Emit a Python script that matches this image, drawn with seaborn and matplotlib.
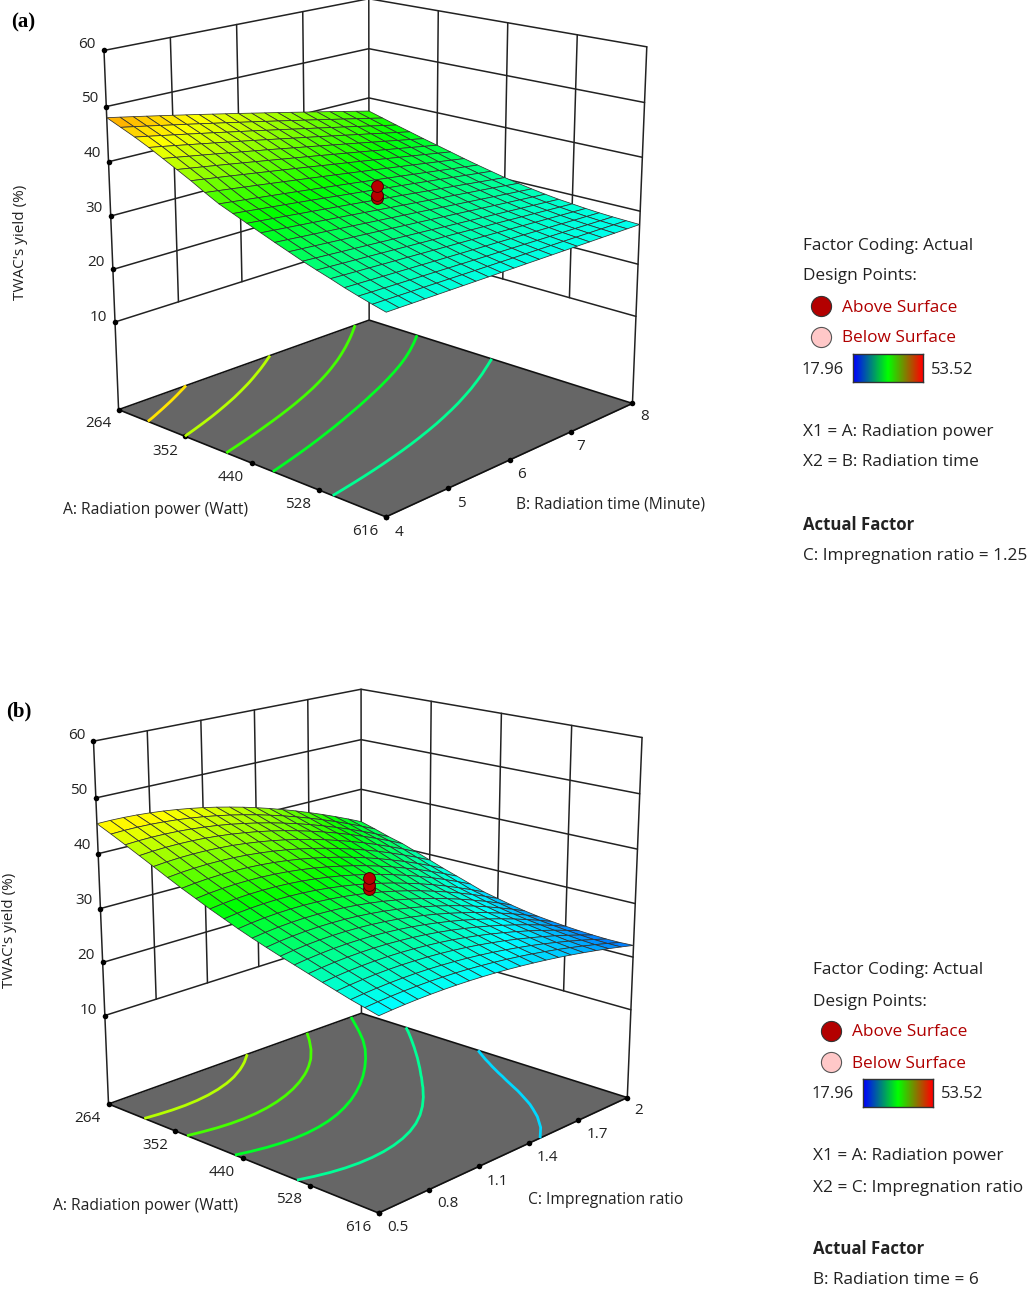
import numpy as np
import matplotlib
matplotlib.use('Agg')
import matplotlib.pyplot as plt
import seaborn as sns

# yield surfaces, rows = radiation power, columns = 2nd factor
yield_a = [
 [48.00,47.56,47.11,46.65,46.18,45.70,45.21,44.71,44.20,43.68,43.15,42.61,42.06,41.50,40.93,40.35,39.76,39.16,38.55,37.93,37.30],
 [46.90,46.47,46.03,45.58,45.12,44.66,44.18,43.69,43.20,42.69,42.18,41.65,41.12,40.57,40.02,39.46,38.88,38.30,37.71,37.11,36.50],
 [45.80,45.38,44.95,44.51,44.07,43.61,43.15,42.67,42.19,41.70,41.20,40.69,40.17,39.64,39.11,38.56,38.01,37.45,36.87,36.29,35.70],
 [44.60,44.20,43.79,43.37,42.94,42.51,42.06,41.61,41.15,40.68,40.20,39.71,39.22,38.72,38.20,37.68,37.15,36.62,36.06,35.51,34.95],
 [43.30,42.92,42.53,42.14,41.74,41.33,40.91,40.48,40.06,39.61,39.15,38.70,38.22,37.75,37.27,36.78,36.28,35.77,35.25,34.73,34.20],
 [42.00,41.65,41.29,40.92,40.54,40.16,39.76,39.36,38.96,38.55,38.13,37.70,37.26,36.82,36.37,35.91,35.44,34.97,34.49,34.00,33.50],
 [40.70,40.37,40.04,39.70,39.34,38.99,38.62,38.25,37.88,37.50,37.10,36.70,36.30,35.89,35.46,35.04,34.60,34.17,33.72,33.26,32.80],
 [39.30,39.00,38.70,38.38,38.07,37.74,37.41,37.07,36.73,36.38,36.03,35.66,35.29,34.92,34.53,34.14,33.75,33.35,32.94,32.52,32.10],
 [38.00,37.73,37.45,37.17,36.88,36.59,36.29,35.98,35.67,35.35,35.03,34.70,34.36,34.01,33.67,33.31,32.95,32.58,32.20,31.83,31.45],
 [37.00,36.75,36.48,36.22,35.95,35.67,35.39,35.10,34.80,34.50,34.20,33.89,33.57,33.25,32.93,32.59,32.26,31.91,31.56,31.20,30.85],
 [36.00,35.76,35.51,35.27,35.01,34.75,34.48,34.22,33.94,33.66,33.38,33.08,32.79,32.49,32.18,31.88,31.56,31.24,30.91,30.58,30.25],
 [35.05,34.83,34.60,34.37,34.14,33.90,33.65,33.40,33.15,32.88,32.62,32.35,32.08,31.80,31.53,31.25,30.96,30.68,30.39,30.07,29.75],
 [34.10,33.90,33.69,33.48,33.27,33.05,32.83,32.60,32.37,32.14,31.90,31.66,31.41,31.16,30.91,30.65,30.39,30.12,29.85,29.58,29.30],
 [33.20,33.02,32.83,32.64,32.45,32.26,32.06,31.86,31.65,31.44,31.23,31.01,30.79,30.57,30.34,30.11,29.87,29.63,29.39,29.15,28.90],
 [32.30,32.14,31.98,31.81,31.65,31.47,31.30,31.12,30.94,30.76,30.58,30.38,30.19,30.00,29.80,29.60,29.40,29.19,28.98,28.77,28.55],
 [31.50,31.36,31.22,31.08,30.94,30.79,30.65,30.49,30.34,30.18,30.03,29.87,29.70,29.53,29.37,29.20,29.02,28.84,28.66,28.48,28.30],
 [30.75,30.63,30.51,30.40,30.27,30.15,30.03,29.90,29.77,29.63,29.50,29.36,29.23,29.09,28.95,28.80,28.65,28.50,28.35,28.20,28.05],
 [29.95,29.86,29.77,29.67,29.58,29.48,29.38,29.28,29.18,29.08,28.98,28.88,28.77,28.66,28.55,28.43,28.32,28.20,28.08,27.97,27.85],
 [29.25,29.18,29.11,29.04,28.97,28.90,28.83,28.75,28.68,28.60,28.52,28.45,28.37,28.29,28.20,28.12,28.04,27.96,27.87,27.78,27.70],
 [28.60,28.56,28.51,28.46,28.42,28.37,28.32,28.27,28.22,28.17,28.13,28.07,28.02,27.97,27.92,27.87,27.82,27.76,27.71,27.65,27.60],
 [28.00,27.98,27.95,27.93,27.90,27.88,27.85,27.83,27.80,27.78,27.75,27.73,27.70,27.68,27.65,27.63,27.60,27.58,27.55,27.53,27.50],
]
yield_b = [
 [45.40,45.44,45.41,45.31,45.14,44.91,44.61,44.25,43.82,43.32,42.75,42.12,41.42,40.65,39.81,38.91,37.94,36.91,35.81,34.64,33.40],
 [44.20,44.29,44.31,44.26,44.13,43.94,43.67,43.34,42.93,42.46,41.91,41.29,40.60,39.84,39.01,38.11,37.14,36.10,34.98,33.80,32.55],
 [42.95,43.09,43.15,43.14,43.05,42.89,42.66,42.36,41.98,41.52,40.99,40.39,39.71,38.97,38.14,37.24,36.27,35.23,34.11,32.92,31.65],
 [41.70,41.89,42.00,42.03,41.99,41.87,41.67,41.40,41.05,40.63,40.13,39.55,38.89,38.16,37.35,36.47,35.51,34.47,33.36,32.17,30.90],
 [40.45,40.67,40.81,40.87,40.86,40.76,40.59,40.33,40.00,39.59,39.10,38.53,37.89,37.17,36.36,35.49,34.53,33.49,32.37,31.19,29.90],
 [39.20,39.45,39.61,39.70,39.70,39.63,39.48,39.24,38.93,38.53,38.06,37.50,36.87,36.15,35.36,34.48,33.53,32.49,31.37,30.18,28.90],
 [38.00,38.27,38.45,38.55,38.58,38.52,38.38,38.16,37.86,37.47,37.01,36.46,35.83,35.13,34.34,33.47,32.51,31.48,30.37,29.17,27.90],
 [36.90,37.18,37.38,37.50,37.53,37.49,37.36,37.15,36.86,36.49,36.03,35.48,34.88,34.18,33.40,32.54,31.59,30.57,29.46,28.27,27.00],
 [35.80,36.09,36.30,36.43,36.47,36.44,36.32,36.12,35.84,35.47,35.03,34.50,33.90,33.21,32.44,31.59,30.66,29.64,28.54,27.36,26.10],
 [34.80,35.09,35.30,35.43,35.48,35.44,35.33,35.13,34.85,34.49,34.06,33.54,32.93,32.25,31.48,30.64,29.72,28.71,27.61,26.45,25.20],
 [33.80,34.10,34.32,34.46,34.52,34.50,34.40,34.22,33.96,33.62,33.20,32.70,32.12,31.46,30.72,29.90,29.00,28.02,26.96,25.82,24.60],
 [32.90,33.20,33.42,33.56,33.63,33.61,33.52,33.35,33.10,32.77,32.37,31.88,31.32,30.68,29.96,29.16,28.29,27.33,26.30,25.19,24.00],
 [32.05,32.35,32.57,32.71,32.78,32.77,32.69,32.53,32.29,31.98,31.59,31.12,30.58,29.96,29.27,28.50,27.65,26.72,25.72,24.66,23.50],
 [31.25,31.54,31.76,31.90,31.97,31.97,31.89,31.74,31.52,31.22,30.85,30.41,29.89,29.30,28.63,27.89,27.08,26.19,25.24,24.20,23.10],
 [30.50,30.78,30.99,31.14,31.21,31.21,31.15,31.01,30.80,30.52,30.17,29.75,29.26,28.70,28.06,27.36,26.59,25.75,24.83,23.85,22.80],
 [29.75,30.02,30.23,30.37,30.44,30.45,30.39,30.26,30.07,29.81,29.48,29.09,28.63,28.11,27.51,26.85,26.12,25.33,24.47,23.54,22.55],
 [29.00,29.26,29.46,29.59,29.67,29.68,29.63,29.51,29.33,29.10,28.80,28.43,28.01,27.52,26.96,26.35,25.68,24.94,24.14,23.28,22.35],
 [28.30,28.54,28.73,28.86,28.93,28.94,28.89,28.79,28.63,28.41,28.13,27.80,27.40,26.96,26.45,25.89,25.27,24.60,23.85,23.05,22.20],
 [27.60,27.82,27.99,28.11,28.17,28.19,28.15,28.05,27.91,27.71,27.46,27.16,26.81,26.40,25.95,25.44,24.87,24.26,23.59,22.87,22.10],
 [27.00,27.20,27.34,27.45,27.50,27.52,27.48,27.40,27.27,27.09,26.87,26.60,26.29,25.93,25.52,25.07,24.57,24.02,23.43,22.79,22.10],
 [26.40,26.57,26.70,26.79,26.84,26.85,26.82,26.75,26.64,26.49,26.30,26.07,25.80,25.49,25.14,24.75,24.32,23.85,23.34,22.79,22.20],
]
power_ticks = [264, 352, 440, 528, 616]
time_ticks = [4, 5, 6, 7, 8]
ratio_ticks = [0.5, 0.8, 1.1, 1.4, 1.7, 2.0]
yield_ticks = [10, 20, 30, 40, 50, 60]
levels_a = [30.7, 34.5, 38.0, 42.0, 45.5]
levels_b = [25.5, 30.5, 34.4, 38.2, 42.1]
# replicate centre points
centre_a = [35.9, 34.3, 33.8]
centre_b = [36.0, 34.6, 33.9]
YMIN, YMAX = 17.96, 53.52
FLOOR = -7.05

sns.set_theme(style='white')
plt.rcParams['font.family'] = ['Open Sans', 'DejaVu Sans']

surf_cmap = sns.blend_palette(['#0000ff', '#00ffff', '#00ff00', '#ffff00', '#ff0000'], as_cmap=True)
bar_cmap = sns.blend_palette(['#0000ff', '#00ff00', '#ff0000'], as_cmap=True)
norm = plt.Normalize(YMIN, YMAX)

fig = plt.figure(figsize=(10.28, 12.92), dpi=100)


# the original has even tick spacing despite its perspective, so undo the foreshortening
def unforeshorten(v, lo, hi, r):
    t = (np.asarray(v, float) - lo) / (hi - lo)
    return lo + (hi - lo) * t / (r - (r - 1) * t)


# only takes the rounding wobble out of the contour lines
def soften(Z):
    Z = Z.copy()
    for _ in range(2):
        Z[1:-1, :] = (Z[:-2, :] + 2 * Z[1:-1, :] + Z[2:, :]) / 4
        Z[:, 1:-1] = (Z[:, :-2] + 2 * Z[:, 1:-1] + Z[:, 2:]) / 4
    return Z


def draw_panel(pos, elev, azim, focal, zasp, xt, yt, table, levels, centre):
    ax = fig.add_axes(pos, projection='3d', computed_zorder=False)
    ax.set_axis_off()
    x0, x1, y0, y1 = xt[0], xt[-1], yt[0], yt[-1]
    wx = lambda v: unforeshorten(v, x0, x1, 0.89)
    wy = lambda v: unforeshorten(v, y0, y1, 1.13)
    Z = np.array(table)
    X, Y = np.meshgrid(wx(np.linspace(x0, x1, Z.shape[0])), wy(np.linspace(y0, y1, Z.shape[1])), indexing='ij')

    # floor
    fx, fy = np.meshgrid([x0, x1], [y0, y1], indexing='ij')
    ax.plot_surface(fx, fy, np.full((2, 2), FLOOR), color='#666666', shade=False, linewidth=0, zorder=1)
    ax.plot([x0, x1, x1, x0, x0], [y0, y0, y1, y1, y0], [FLOOR] * 5, color='#111111', lw=1.2, zorder=2)

    # walls
    wall = dict(color='#222222', lw=1.1, zorder=2)
    for zt in yield_ticks:
        ax.plot([x0, x0, x1], [y0, y1, y1], [zt, zt, zt], **wall)
    for v in wy(yt[1:-1]):
        ax.plot([x0, x0], [v, v], [10, 60], **wall)
    for v in wx(xt[1:-1]):
        ax.plot([v, v], [y1, y1], [10, 60], **wall)
    for cx, cy in ((x0, y0), (x0, y1), (x1, y1)):
        ax.plot([cx, cx], [cy, cy], [FLOOR, 60], **wall)

    # tick dots
    dots = dict(color='black', s=16, depthshade=False, linewidths=0, zorder=3)
    ax.scatter(wx(xt), [y0] * len(xt), [FLOOR] * len(xt), **dots)
    ax.scatter([x1] * len(yt), wy(yt), [FLOOR] * len(yt), **dots)
    ax.scatter([x0] * len(yield_ticks), [y0] * len(yield_ticks), yield_ticks, **dots)

    # contours on the floor
    ax.contour(X, Y, soften(Z), levels=levels, zdir='z', offset=FLOOR,
               colors=[surf_cmap(norm(v)) for v in levels], linewidths=2.0, zorder=3)

    # surface, one colour per cell
    cell = (Z[:-1, :-1] + Z[1:, :-1] + Z[:-1, 1:] + Z[1:, 1:]) / 4
    fc = surf_cmap(norm(np.pad(cell, ((0, 1), (0, 1)), mode='edge')))
    ax.plot_surface(X, Y, Z, facecolors=fc, rstride=1, cstride=1, shade=False,
                    edgecolor='#303030', linewidth=0.55, zorder=4)

    # design points
    n = len(centre)
    ax.scatter(wx([440] * n), wy([(yt[0] + yt[-1]) / 2] * n), centre, color='#b80000', edgecolor='#400000',
               linewidths=0.7, s=72, depthshade=False, zorder=5)

    ax.set_xlim(x0, x1)
    ax.set_ylim(y0, y1)
    ax.set_zlim(FLOOR, 60)
    ax.set_box_aspect((1, 1, zasp))
    ax.view_init(elev=elev, azim=azim)
    ax.set_proj_type('persp', focal_length=focal)
    return ax


draw_panel([0.0523, 0.5703, 0.6114, 0.4864], 17.14, -46.84, 0.593, 1.002,
           power_ticks, time_ticks, yield_a, levels_a, centre_a)
draw_panel([0.0418, 0.0317, 0.6175, 0.4913], 17.17, -46.86, 0.583, 1.002,
           power_ticks, ratio_ticks, yield_b, levels_b, centre_b)

# overlay in picture pixels for all the lettering
ov = fig.add_axes([0, 0, 1, 1])
ov.set_xlim(0, 1028)
ov.set_ylim(1292, 0)
ov.axis('off')
ov.patch.set_alpha(0)

TXT = '#222222'
RED = '#b00000'


def put(x, y, s, size=11.0, ha='center', color=TXT, **kw):
    ov.text(x, y + 1.5, s, fontsize=size, ha=ha, va='center', color=color, **kw)


put(23, 21, '(a)', size=15, family='Liberation Serif', weight='bold', color='black')
put(19, 710, '(b)', size=15, family='Liberation Serif', weight='bold', color='black')

for v, x, y in zip(yield_ticks, [98, 96, 94, 92, 90, 87], [316, 261, 207, 152, 97, 43]):
    put(x, y, str(v))
for v, x, y in zip(power_ticks, [98, 165, 231, 298, 365], [422, 450, 476, 503, 530]):
    put(x, y, str(v))
for v, x, y in zip(time_ticks, [399, 461, 522, 581, 645], [531, 502, 473, 445, 415]):
    put(x, y, str(v))
put(21, 241, "TWAC's yield (%)", size=11.0, rotation=90)
put(156, 509, 'A: Radiation power (Watt)', size=11.25)
put(611, 503, 'B: Radiation time (Minute)', size=11.25)

for v, x, y in zip(yield_ticks, [88, 86, 84, 82, 79, 77], [1009, 954, 899, 844, 789, 734]):
    put(x, y, str(v))
for v, x, y in zip(power_ticks, [87, 155, 222, 289, 358], [1117, 1144, 1171, 1198, 1226]):
    put(x, y, str(v))
for v, x, y in zip(['0.5', '0.8', '1.1', '1.4', '1.7', '2'], [398, 448, 497, 547, 597, 639],
                   [1226, 1202, 1180, 1156, 1133, 1109]):
    put(x, y, v)
put(10, 929, "TWAC's yield (%)", size=11.0, rotation=90)
put(146, 1205, 'A: Radiation power (Watt)', size=11.25)
put(606, 1198, 'C: Impregnation ratio', size=11.25)


def legend(x, dy, lines_x, actual):
    put(x, 244 + dy, 'Factor Coding: Actual', size=12.4, ha='left')
    put(x, 275 + dy, 'Design Points:', size=12.4, ha='left')
    sns.scatterplot(x=[x + 18], y=[306 + dy], ax=ov, s=210, color='#b30000', edgecolor='#333333', linewidth=0.8)
    sns.scatterplot(x=[x + 18], y=[337 + dy], ax=ov, s=210, color='#ffc8c8', edgecolor='#555555', linewidth=0.8)
    put(x + 39.5, 306 + dy, 'Above Surface', size=12.4, ha='left', color=RED)
    put(x + 39.5, 337 + dy, 'Below Surface', size=12.4, ha='left', color=RED)
    put(x - 1, 368 + dy, f'{YMIN:.2f}', size=11.9, ha='left')
    put(x + 128, 368 + dy, f'{YMAX:.2f}', size=11.9, ha='left')
    bar = fig.add_axes([(x + 50) / 1028, 1 - (382 + dy) / 1292, 70 / 1028, 28 / 1292])
    sns.heatmap(np.linspace(YMIN, YMAX, 70)[None, :], cmap=bar_cmap, cbar=False, ax=bar,
                xticklabels=False, yticklabels=False)
    for sp in bar.spines.values():
        sp.set_visible(True)
        sp.set_color('#333333')
        sp.set_linewidth(1)
    put(x, 430 + dy, lines_x[0], size=12.4, ha='left')
    put(x, 461 + dy, lines_x[1], size=12.4, ha='left')
    put(x, 523 + dy, 'Actual Factor', size=12.1, ha='left', weight='bold')
    put(x, 554 + dy, actual, size=12.4, ha='left')


legend(803, 0, ['X1 = A: Radiation power', 'X2 = B: Radiation time'], 'C: Impregnation ratio = 1.25')
legend(813, 725, ['X1 = A: Radiation power', 'X2 = C: Impregnation ratio'], 'B: Radiation time = 6')
ov.set_xlim(0, 1028)
ov.set_ylim(1292, 0)

fig.savefig('out.png', dpi=100)
